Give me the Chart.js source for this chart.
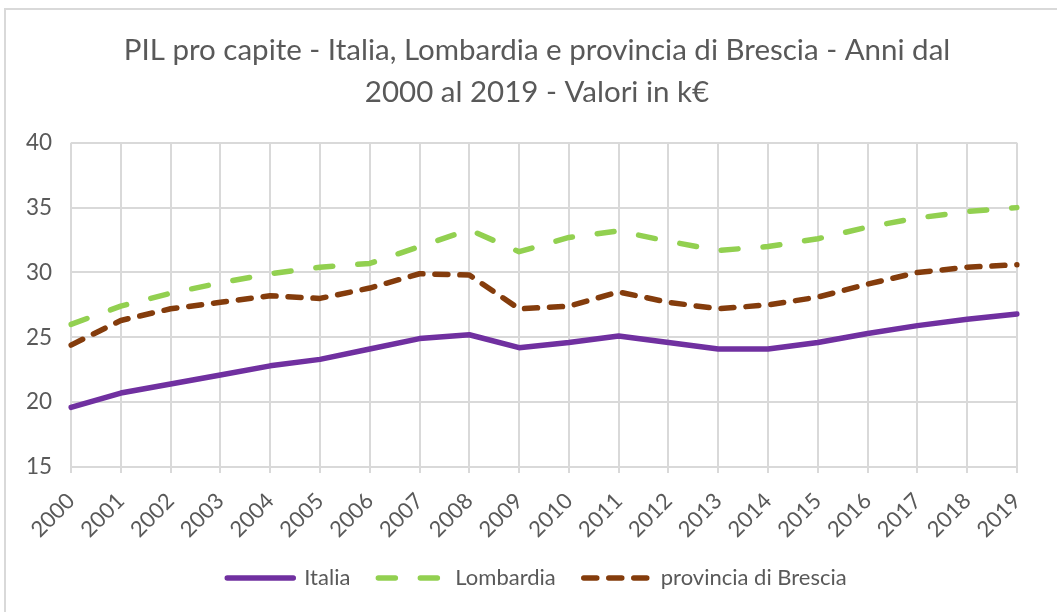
<!DOCTYPE html>
<html>
<head>
<meta charset="utf-8">
<script src="https://cdn.jsdelivr.net/npm/chart.js@4"></script>
<style>
  html, body { margin: 0; padding: 0; background: #fff; overflow: hidden; }
  #frame { position: absolute; left: 4px; top: 8px; width: 1060px; height: 610px; border: 2px solid #d9d9d9; }
  #wrap { position: absolute; left: 0; top: 0; width: 1104px; height: 612px; }
</style>
</head>
<body>
<div id="frame"></div>
<div id="wrap"><canvas id="chart" width="1104" height="612"></canvas></div>
<script>
// anni
const years = ['2000', '2001', '2002', '2003', '2004', '2005', '2006', '2007', '2008', '2009',
  '2010', '2011', '2012', '2013', '2014', '2015', '2016', '2017', '2018', '2019'];

// valori in k€
const italia = [19.6, 20.7, 21.4, 22.1, 22.8, 23.3, 24.1, 24.9, 25.2, 24.2,
  24.6, 25.1, 24.6, 24.1, 24.1, 24.6, 25.3, 25.9, 26.4, 26.8];
const lombardia = [26.0, 27.4, 28.4, 29.2, 29.9, 30.4, 30.7, 32.0, 33.3, 31.6,
  32.7, 33.2, 32.4, 31.7, 32.0, 32.6, 33.5, 34.2, 34.7, 35.0];
const brescia = [24.4, 26.3, 27.2, 27.7, 28.2, 28.0, 28.8, 29.9, 29.8, 27.2,
  27.4, 28.5, 27.7, 27.2, 27.5, 28.1, 29.1, 30.0, 30.4, 30.6];

const yTicks = [15, 20, 25, 30, 35, 40];

const grey = '#595959';
const gridColor = '#d9d9d9';
const font = 'Lato, "Open Sans", sans-serif';

const ctx = document.getElementById('chart').getContext('2d');
new Chart(ctx, {
  type: 'line',
  data: {
    labels: years,
    datasets: [
      {
        label: 'Italia',
        data: italia,
        borderColor: '#7030a0',
        borderWidth: 5.5,
        borderCapStyle: 'round',
      },
      {
        label: 'Lombardia',
        data: lombardia,
        borderColor: '#92d050',
        borderWidth: 5.5,
        borderDash: [17, 25],
        borderCapStyle: 'round',
      },
      {
        label: 'provincia di Brescia',
        data: brescia,
        borderColor: '#843c0c',
        borderWidth: 5.5,
        borderDash: [13, 12],
        borderCapStyle: 'round',
      },
    ],
  },
  options: {
    responsive: false,
    animation: false,
    layout: { padding: { left: 10, right: 40, top: 0, bottom: 13 } },
    elements: {
      point: { radius: 0, hoverRadius: 0 },
      line: { tension: 0, borderJoinStyle: 'round' },
    },
    plugins: {
      title: {
        display: true,
        text: ['PIL pro capite - Italia, Lombardia e provincia di Brescia - Anni dal', '2000 al 2019 - Valori in k€'],
        color: grey,
        font: { family: font, size: 29.5, weight: 'normal', lineHeight: 1.42 },
        padding: { top: 30, bottom: 29 },
      },
      legend: {
        position: 'bottom',
        labels: {
          usePointStyle: true,
          pointStyle: 'line',
          pointStyleWidth: 66,
          padding: 28,
          color: grey,
          font: { family: font, size: 22 },
          // la legenda deve riprendere tratteggio e spessore delle linee
          generateLabels: chart => {
            const items = Chart.defaults.plugins.legend.labels.generateLabels(chart);
            return items.map(it => {
              const ds = chart.data.datasets[it.datasetIndex];
              return Object.assign(it, {
                strokeStyle: ds.borderColor,
                lineWidth: ds.borderWidth,
                lineDash: ds.borderDash || [],
                lineCap: 'round',
              });
            });
          },
        },
      },
      tooltip: { enabled: false },
    },
    scales: {
      x: {
        grid: { color: gridColor, lineWidth: 2, tickLength: 6, tickColor: gridColor },
        border: { color: gridColor, width: 2 },
        ticks: {
          color: grey,
          font: { family: font, size: 22 },
          minRotation: 45,
          maxRotation: 45,
          padding: 15,
          autoSkip: false,
        },
        afterFit: s => { s.height = 72; },
      },
      y: {
        min: yTicks[0],
        max: yTicks[yTicks.length - 1],
        grid: { color: gridColor, lineWidth: 2, drawTicks: false },
        border: { display: false },
        ticks: {
          stepSize: yTicks[1] - yTicks[0],
          color: grey,
          font: { family: font, size: 22.5 },
          padding: 19,
        },
        afterFit: s => { s.width = 61; },
      },
      // asse vuoto a destra: sposta il centro di titolo e legenda come nell'originale
      spacer: {
        type: 'linear',
        position: 'right',
        grid: { display: false },
        border: { display: false },
        ticks: { display: false },
        afterFit: s => { s.width = 47; },
      },
    },
  },
});
</script>
</body>
</html>
